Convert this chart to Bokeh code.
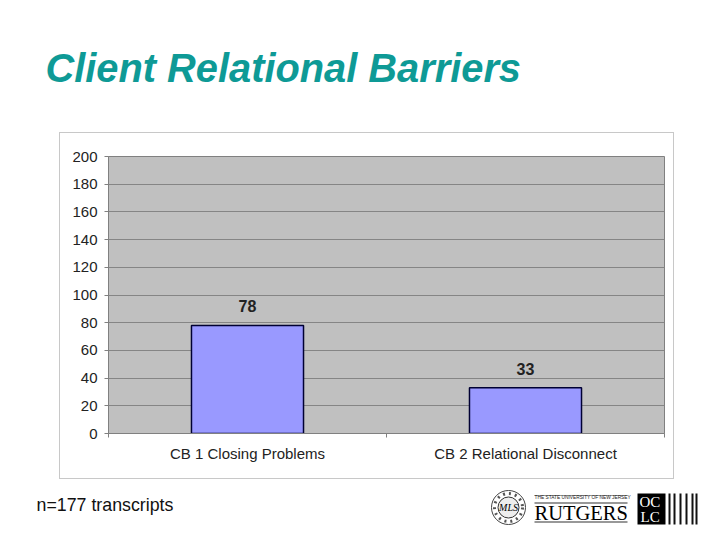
from bokeh.core.properties import value
from bokeh.embed import file_html
from bokeh.layouts import column
from bokeh.resources import INLINE
from bokeh.plotting import figure
from bokeh.models import ColumnDataSource, Range1d, FixedTicker

categories = ["CB 1 Closing Problems", "CB 2 Relational Disconnect"]
values = [78, 33]
y_ticks = [0, 20, 40, 60, 80, 100, 120, 140, 160, 180, 200]
title_text = "Client Relational Barriers"
note_text = "n=177 transcripts"

FONT = "Liberation Sans"
SERIF = "Liberation Serif"
W = 704


def pixel_figure(y0, y1):
    """A bare figure whose data coordinates are page pixels."""
    f = figure(width=W, height=y1 - y0, output_backend="svg", toolbar_location=None,
               x_range=Range1d(0, W), y_range=Range1d(y1, y0), frame_align=False,
               min_border=0, outline_line_color=None, border_fill_color="white",
               background_fill_color="white")
    f.axis.visible = False
    f.grid.visible = False
    return f


def put_text(f, x, y, s, size, color="black", font=FONT, style="normal", align="left"):
    f.text(x=[x], y=[y], text=[s], text_font=value(font), text_font_size=size,
           text_font_style=style, text_color=color, text_align=align,
           text_baseline="alphabetic")


# ---- title band
top = pixel_figure(0, 132)
put_text(top, 45, 67, title_text, "39.8px", color="#0E9A96", style="bold italic")

# ---- chart panel
positions = [i + 0.5 for i in range(len(categories))]
source = ColumnDataSource(dict(x=positions, val=values, txt=[str(v) for v in values]))

p = figure(width=615, height=347, output_backend="svg", toolbar_location=None,
           x_range=Range1d(0, len(categories)), y_range=Range1d(0, 200), frame_align=False,
           min_border_left=48, min_border_right=11, min_border_top=23, min_border_bottom=47,
           margin=(0, 0, 0, 59), background_fill_color="#C0C0C0", border_fill_color="white",
           outline_line_color="#808080",
           styles={"border": "1px solid #C8C8C8", "box-sizing": "border-box"})

p.vbar(x="x", top="val", width=0.403, source=source,
       fill_color="#9999FF", line_color="#000033", line_width=1.5)
p.text(x="x", y="val", text="txt", source=source, text_font=value(FONT), text_font_style="bold",
       text_font_size="16px", text_color="#222222", text_align="center",
       text_baseline="bottom", y_offset=-13)

p.xgrid.visible = False
p.ygrid.grid_line_color = "#858585"
p.ygrid.grid_line_width = 1

p.yaxis.ticker = FixedTicker(ticks=y_ticks)
p.yaxis.minor_tick_line_color = None
p.yaxis.major_tick_out = 4
p.yaxis.major_tick_in = 0
p.yaxis.major_tick_line_color = "#808080"
p.yaxis.axis_line_color = "#808080"
p.yaxis.major_label_text_font = FONT
p.yaxis.major_label_text_font_size = "15px"
p.yaxis.major_label_text_color = "#222222"
p.yaxis.major_label_standoff = 7

p.xaxis.ticker = FixedTicker(ticks=positions, minor_ticks=list(range(len(categories) + 1)))
p.xaxis.major_label_overrides = dict(zip(positions, categories))
p.xaxis.major_tick_line_color = None
p.xaxis.major_tick_out = 0
p.xaxis.major_tick_in = 0
p.xaxis.minor_tick_out = 4
p.xaxis.minor_tick_in = 0
p.xaxis.minor_tick_line_color = "#808080"
p.xaxis.axis_line_color = "#808080"
p.xaxis.major_label_text_font = FONT
p.xaxis.major_label_text_font_size = "15px"
p.xaxis.major_label_text_color = "#222222"
p.xaxis.major_label_standoff = 7
p.xaxis.major_label_orientation = "horizontal"

# ---- footer: note and logos
foot = pixel_figure(479, 527)
put_text(foot, 36, 504, note_text, "17.8px", color="#111111")

# IMLS seal
foot.scatter(x=[508], y=[507], size=34, fill_color="white", line_color="#444444", line_width=1)
foot.scatter(x=[508], y=[507], size=28, fill_color=None, line_color="#555555", line_width=3,
             line_dash="dotted")
foot.scatter(x=[508], y=[507], size=21, fill_color="#EEEEEE", line_color="#333333", line_width=1)
put_text(foot, 508, 507, "MLS", "10px", font=SERIF, style="italic", align="center")

# Rutgers
foot.quad(left=[534, 534, 534], right=[627, 627, 627], top=[495, 502, 521], bottom=[495.6, 503, 522],
          fill_color="#333333", line_color=None)
put_text(foot, 534, 497, "THE STATE UNIVERSITY OF NEW JERSEY", "4.8px", color="#222222")
put_text(foot, 534, 512, "RUTGERS", "20.5px", font=SERIF)

# OCLC
foot.quad(left=[637], right=[665], top=[493], bottom=[524], fill_color="black", line_color=None)
put_text(foot, 639, 501, "OC", "15px", color="white", font=SERIF)
put_text(foot, 640, 516, "LC", "15px", color="white", font=SERIF)
foot.quad(left=[668, 673, 679, 685, 691, 695], right=[670, 675, 681, 687, 693, 697],
          top=[493] * 6, bottom=[524] * 6, fill_color="#111111", line_color=None)

page = column(top, p, foot, spacing=0)
open("out.html", "w").write(file_html(page, INLINE))
